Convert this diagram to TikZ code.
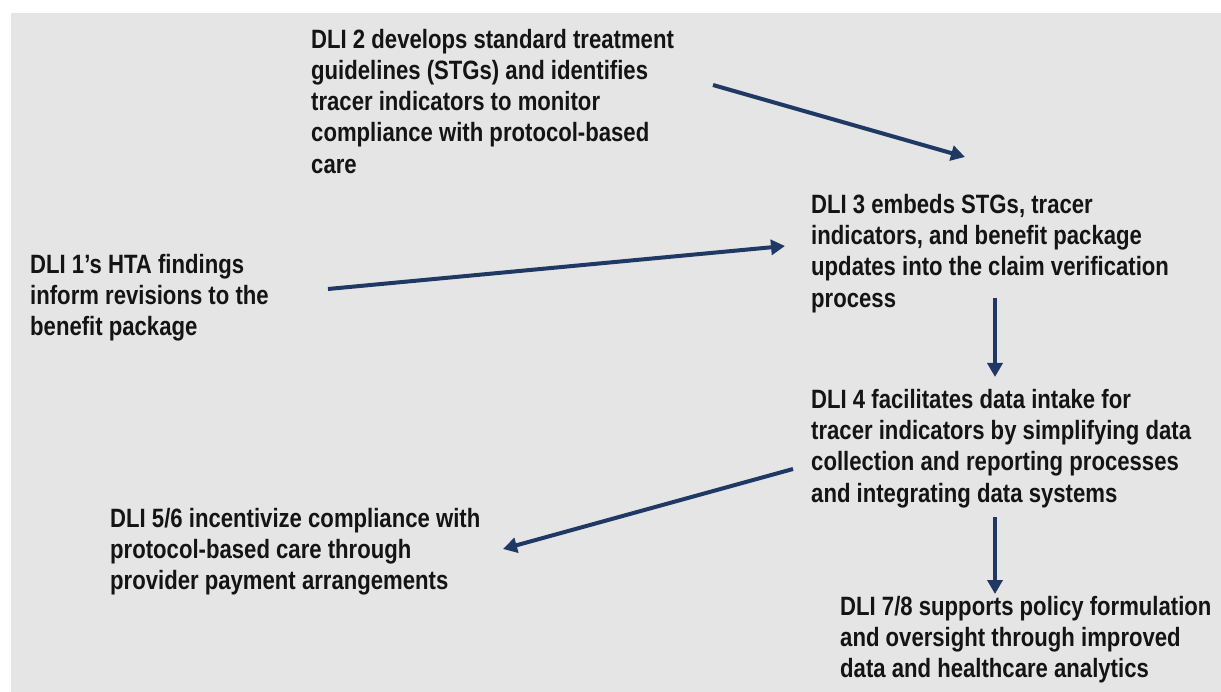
\documentclass[tikz,border=0pt]{standalone}
\usepackage{fontspec}
\setmainfont{Liberation Sans}[FakeStretch=0.835]
\usetikzlibrary{arrows.meta,calc}
\definecolor{panel}{RGB}{229,229,229}
\definecolor{navy}{RGB}{31,56,100}
\begin{document}
\begin{tikzpicture}[x=1pt,y=-1pt,
  lbl/.style={anchor=north west, inner sep=0pt, align=left,
    font=\fontsize{26.5}{31.2}\selectfont\bfseries, text=black!92},
  flow/.style={draw=navy, line width=4pt, -{Triangle[length=14pt,width=15pt]}}]
% page and grey panel
\useasboundingbox (0,0) rectangle (1221,692);
\fill[white] (0,0) rectangle (1221,692);
\fill[panel] (11,13) rectangle (1221,692);

% statements
\node[lbl] (dli2) at (311,29) {DLI 2 develops standard treatment\\guidelines (STGs) and identifies\\tracer indicators to monitor\\compliance with protocol-based\\care};
\node[lbl] (dli1) at (30,254) {DLI 1’s HTA findings\\inform revisions to the\\benefit package};
\node[lbl] (dli3) at (811,194) {DLI 3 embeds STGs, tracer\\indicators, and benefit package\\updates into the claim verification\\process};
\node[lbl] (dli4) at (811,389) {DLI 4 facilitates data intake for\\tracer indicators by simplifying data\\collection and reporting processes\\and integrating data systems};
\node[lbl] (dli56) at (110,508) {DLI 5/6 incentivize compliance with\\protocol-based care through\\provider payment arrangements};
\node[lbl] (dli78) at (840,596) {DLI 7/8 supports policy formulation\\and oversight through improved\\data and healthcare analytics};

% connector end points
\coordinate (dli2-out) at (713,85);
\coordinate (dli3-in2) at (965,157);
\coordinate (dli1-out) at (328,289);
\coordinate (dli3-in1) at (785,246);
\coordinate (dli3-out) at (995,298);
\coordinate (dli4-in) at (995,377);
\coordinate (dli4-outl) at (793,469);
\coordinate (dli56-in) at (503,549);
\coordinate (dli4-outd) at (995,517);
\coordinate (dli78-in) at (995,594);

% connectors
\draw[flow] (dli2-out) -- (dli3-in2);
\draw[flow] (dli1-out) -- (dli3-in1);
\draw[flow] (dli3-out) -- (dli4-in);
\draw[flow] (dli4-outl) -- (dli56-in);
\draw[flow] (dli4-outd) -- (dli78-in);
\end{tikzpicture}
\end{document}
